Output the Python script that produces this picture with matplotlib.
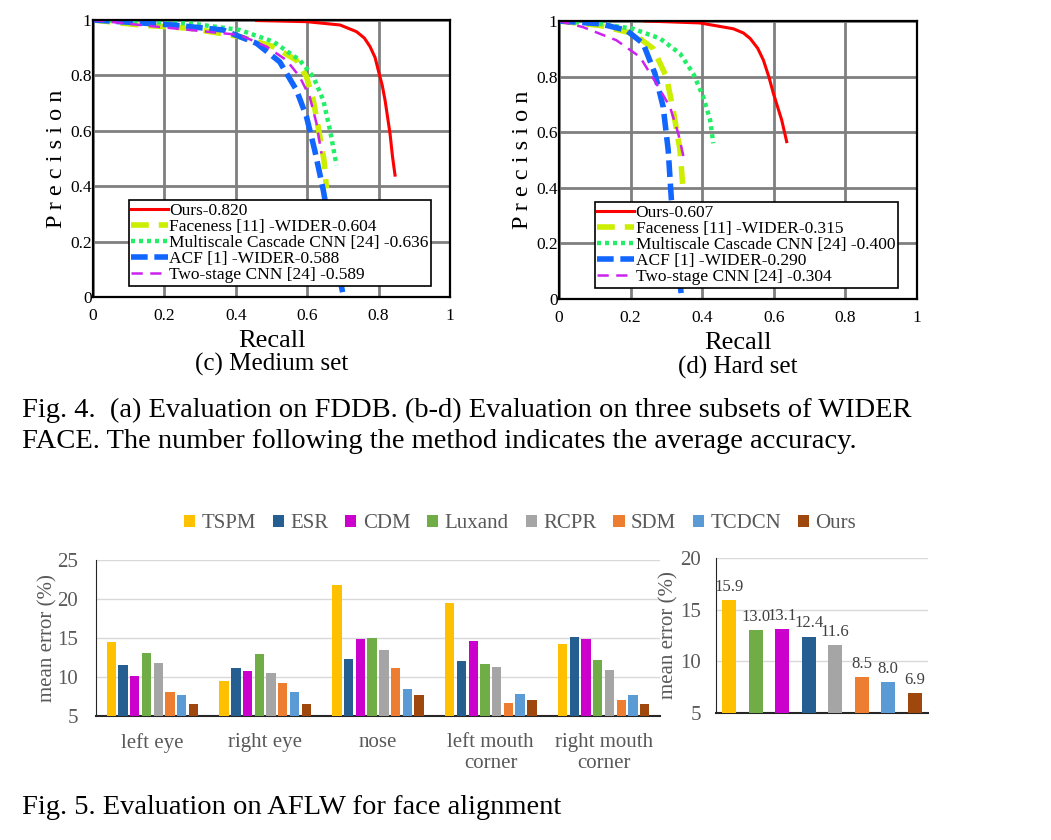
import numpy as np
import matplotlib
matplotlib.use("Agg")
import matplotlib.pyplot as plt
from matplotlib.patches import Patch

plt.rcParams['font.family'] = ['Liberation Serif', 'DejaVu Serif']

W, H = 1051, 840

# ---------------- PR curve data ----------------
methods = ["Ours", "Faceness [11] -WIDER", "Multiscale Cascade CNN [24] ", "ACF [1] -WIDER", "Two-stage CNN [24] "]
medium_scores = ["0.820", "0.604", "0.636", "0.588", "0.589"]
hard_scores = ["0.607", "0.315", "0.400", "0.290", "0.304"]

med_ours_r = [0.458, 0.598, 0.692, 0.738, 0.760, 0.776, 0.790, 0.799, 0.810, 0.818, 0.832, 0.839, 0.846]
med_ours_p = [0.998, 0.994, 0.982, 0.958, 0.935, 0.904, 0.865, 0.819, 0.765, 0.711, 0.590, 0.506, 0.440]
med_face_r = [0.0, 0.131, 0.271, 0.411, 0.505, 0.570, 0.598, 0.617, 0.634, 0.647, 0.654]
med_face_p = [1.0, 0.982, 0.970, 0.940, 0.904, 0.855, 0.795, 0.711, 0.590, 0.494, 0.392]
med_msc_r = [0.0, 0.271, 0.411, 0.505, 0.579, 0.617, 0.645, 0.664, 0.682]
med_msc_p = [1.0, 0.988, 0.964, 0.922, 0.855, 0.795, 0.711, 0.602, 0.476]
med_acf_r = [0.0, 0.224, 0.364, 0.458, 0.523, 0.570, 0.598, 0.621, 0.645, 0.673, 0.701]
med_acf_p = [1.0, 0.982, 0.964, 0.916, 0.849, 0.747, 0.651, 0.530, 0.386, 0.181, 0.006]
med_two_r = [0.0, 0.131, 0.318, 0.411, 0.486, 0.542, 0.579, 0.607, 0.626, 0.640]
med_two_p = [1.0, 0.982, 0.958, 0.946, 0.904, 0.855, 0.795, 0.723, 0.627, 0.518]

hard_ours_r = [0.240, 0.394, 0.487, 0.515, 0.534, 0.555, 0.571, 0.586, 0.599, 0.622, 0.636]
hard_ours_p = [1.0, 0.993, 0.972, 0.957, 0.937, 0.902, 0.859, 0.800, 0.739, 0.644, 0.566]
hard_face_r = [0.0, 0.114, 0.207, 0.263, 0.300, 0.319, 0.338, 0.347]
hard_face_p = [1.0, 0.984, 0.955, 0.901, 0.799, 0.679, 0.536, 0.386]
hard_msc_r = [0.0, 0.114, 0.207, 0.282, 0.338, 0.375, 0.403, 0.422, 0.431]
hard_msc_p = [1.0, 0.990, 0.972, 0.937, 0.883, 0.811, 0.727, 0.644, 0.560]
hard_acf_r = [0.0, 0.114, 0.188, 0.235, 0.268, 0.291, 0.305, 0.314, 0.328, 0.342]
hard_acf_p = [1.0, 0.990, 0.967, 0.919, 0.811, 0.691, 0.536, 0.356, 0.177, 0.010]
hard_two_r = [0.0, 0.067, 0.160, 0.226, 0.272, 0.310, 0.333, 0.352]
hard_two_p = [1.0, 0.978, 0.931, 0.871, 0.775, 0.691, 0.596, 0.488]

pr_ticks = [0, 0.2, 0.4, 0.6, 0.8, 1]
pr_ticklabels = ["0", "0.2", "0.4", "0.6", "0.8", "1"]

# ---------------- bar data ----------------
bar_methods = ["TSPM", "ESR", "CDM", "Luxand", "RCPR", "SDM", "TCDCN", "Ours"]
bar_colors = ["#FFC000", "#255E91", "#CC00CC", "#70AD47", "#A5A5A5", "#ED7D31", "#5B9BD5", "#9E480E"]
landmarks = ["left eye", "right eye", "nose", "left mouth\ncorner", "right mouth\ncorner"]
err_TSPM = [14.5, 9.5, 21.8, 19.5, 14.2]
err_ESR = [11.5, 11.1, 12.3, 12.0, 15.1]
err_CDM = [10.1, 10.8, 14.9, 14.6, 14.9]
err_Luxand = [13.1, 12.9, 15.0, 11.7, 12.2]
err_RCPR = [11.8, 10.5, 13.4, 11.3, 10.9]
err_SDM = [8.1, 9.2, 11.2, 6.7, 7.1]
err_TCDCN = [7.7, 8.1, 8.5, 7.8, 7.7]
err_Ours = [6.6, 6.6, 7.7, 7.0, 6.5]

avg_methods = ["TSPM", "Luxand", "CDM", "ESR", "RCPR", "SDM", "TCDCN", "Ours"]
avg_values = [15.9, 13.0, 13.1, 12.4, 11.6, 8.5, 8.0, 6.9]

# ---------------- helpers ----------------
def rect(l, t, r, b):
    return [l / W, 1 - b / H, (r - l) / W, (b - t) / H]

fig = plt.figure(figsize=(W / 100, H / 100), dpi=100)

styles = [
    dict(color="#FF0000", lw=2.2, ls="-"),
    dict(color="#CCEE00", lw=4.0, dashes=(3.2, 1.8)),
    dict(color="#22EE66", lw=3.2, dashes=(0.9, 0.9)),
    dict(color="#1166FF", lw=4.0, dashes=(3.0, 1.2)),
    dict(color="#CC22EE", lw=1.8, dashes=(4.5, 3.0)),
]

def pr_panel(rc, curves, scores, title):
    ax = fig.add_axes(rect(*rc))
    for (r, p), st, m, s in zip(curves, styles, methods, scores):
        ax.plot(r, p, label=f"{m}-{s}", **st)
    ax.set_xlim(0, 1)
    ax.set_ylim(0, 1)
    ax.set_xticks(pr_ticks)
    ax.set_yticks(pr_ticks)
    ax.set_xticklabels(pr_ticklabels, fontsize=12.5)
    ax.set_yticklabels(pr_ticklabels, fontsize=12.5)
    ax.tick_params(axis="x", length=0, pad=8)
    ax.tick_params(axis="y", length=0, pad=1)
    ax.grid(True, color="#7f7f7f", lw=2.0)
    ax.set_axisbelow(True)
    for sp in ax.spines.values():
        sp.set_linewidth(1.6)
    ax.set_xlabel("Recall", fontsize=19, labelpad=4)
    ax.text(0.5, -0.245, title, transform=ax.transAxes, fontsize=18, ha="center", va="center")
    ax.set_ylabel("P r e c i s i o n", fontsize=17.5, labelpad=2)
    leg = ax.legend(loc="lower left", bbox_to_anchor=(0.10, 0.04), fontsize=12.5,
                    handlelength=2.1, handletextpad=0.1, labelspacing=0.0,
                    borderpad=0.15, borderaxespad=0, fancybox=False,
                    edgecolor="black", framealpha=1)
    leg.get_frame().set_linewidth(1.2)
    return ax

pr_panel((93, 20, 450, 297),
         [(med_ours_r, med_ours_p), (med_face_r, med_face_p), (med_msc_r, med_msc_p),
          (med_acf_r, med_acf_p), (med_two_r, med_two_p)], medium_scores, "(c) Medium set")
pr_panel((559, 21, 917, 299),
         [(hard_ours_r, hard_ours_p), (hard_face_r, hard_face_p), (hard_msc_r, hard_msc_p),
          (hard_acf_r, hard_acf_p), (hard_two_r, hard_two_p)], hard_scores, "(d) Hard set")

# captions
fig.text(22 / W, 1 - 410 / H, "Fig. 4.  (a) Evaluation on FDDB. (b-d) Evaluation on three subsets of WIDER",
         fontsize=20.5, va="center", ha="left")
fig.text(22 / W, 1 - 441 / H, "FACE. The number following the method indicates the average accuracy.",
         fontsize=20.5, va="center", ha="left")
fig.text(22 / W, 1 - 808 / H, "Fig. 5. Evaluation on AFLW for face alignment",
         fontsize=20.5, va="center", ha="left")

gray = "#595959"

# left bar chart
ax1 = fig.add_axes(rect(96, 560, 660, 716))
series = [err_TSPM, err_ESR, err_CDM, err_Luxand, err_RCPR, err_SDM, err_TCDCN, err_Ours]
x = np.arange(len(landmarks))
step = 0.104
for i, (vals, c) in enumerate(zip(series, bar_colors)):
    ax1.bar(x + (i - 3.5) * step, np.array(vals) - 5, bottom=5, width=0.083, color=c, zorder=3)
ax1.set_xlim(-0.5, len(landmarks) - 0.5)
ax1.set_ylim(5, 25)
ax1.set_yticks([5, 10, 15, 20, 25])
ax1.set_yticklabels(["5", "10", "15", "20", "25"], fontsize=15, color=gray)
ax1.set_xticks(x)
ax1.set_xticklabels(landmarks, fontsize=15, color=gray, linespacing=1.15)
ax1.tick_params(axis="x", length=0, pad=12)
ax1.tick_params(axis="y", length=0, pad=13)
ax1.grid(axis="y", color="#D9D9D9", lw=1)
ax1.set_axisbelow(True)
for s in ["top", "right"]:
    ax1.spines[s].set_visible(False)
ax1.spines["left"].set_color("#262626")
ax1.spines["bottom"].set_color("#262626")
ax1.spines["bottom"].set_linewidth(1.5)
ax1.set_ylabel("mean error (%)", fontsize=15, color=gray, labelpad=0)

# right bar chart
ax2 = fig.add_axes(rect(716, 558, 928, 713))
xa = np.arange(len(avg_methods))
cmap = dict(zip(bar_methods, bar_colors))
ax2.bar(xa, np.array(avg_values) - 5, bottom=5, width=0.53,
        color=[cmap[m] for m in avg_methods], zorder=3)
for xi, v in zip(xa, avg_values):
    ax2.text(xi, v + 0.5, f"{v:.1f}", ha="center", va="bottom", fontsize=12, color="#404040")
ax2.set_xlim(-0.5, len(avg_methods) - 0.5)
ax2.set_ylim(5, 20)
ax2.set_yticks([5, 10, 15, 20])
ax2.set_yticklabels(["5", "10", "15", "20"], fontsize=15, color=gray)
ax2.set_xticks([])
ax2.tick_params(length=0, pad=11)
ax2.grid(axis="y", color="#D9D9D9", lw=1)
ax2.set_axisbelow(True)
for s in ["top", "right"]:
    ax2.spines[s].set_visible(False)
ax2.spines["left"].set_color("#262626")
ax2.spines["bottom"].set_color("#262626")
ax2.spines["bottom"].set_linewidth(1.5)
ax2.set_ylabel("mean error (%)", fontsize=15, color=gray, labelpad=1)

# legend for bars
handles = [Patch(facecolor=c, edgecolor="none") for c in bar_colors]
fig.legend(handles, bar_methods, loc="center", bbox_to_anchor=(520 / W, 1 - 524 / H), ncol=8,
           frameon=False, fontsize=15, handlelength=0.55, handleheight=0.55,
           handletextpad=0.3, columnspacing=0.8, labelcolor=gray)

fig.savefig("out.png", dpi=100)
